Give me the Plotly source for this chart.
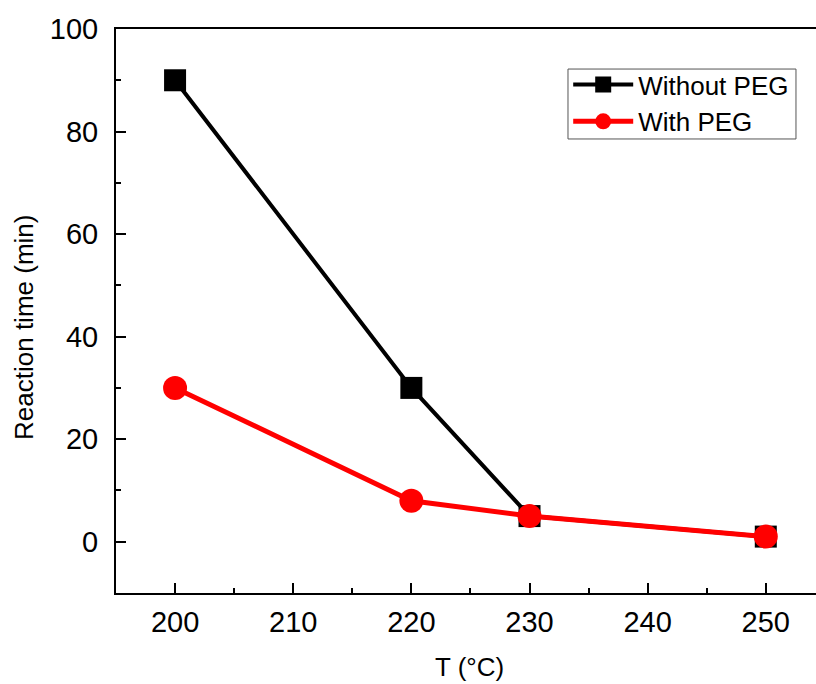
import plotly.graph_objects as go

temps = [200, 220, 230, 250]
without_peg = [90, 30, 5, 1]
with_peg = [30, 8, 5, 1]

x_ticks = [200, 210, 220, 230, 240, 250]
y_ticks = [0, 20, 40, 60, 80, 100]

FONT = "Liberation Sans, Arial, sans-serif"

fig = go.Figure()
fig.add_trace(go.Scatter(
    x=temps, y=without_peg, mode="lines+markers", name="Without PEG",
    line=dict(color="black", width=4),
    marker=dict(symbol="square", size=22, color="black"),
))
fig.add_trace(go.Scatter(
    x=temps, y=with_peg, mode="lines+markers", name="With PEG",
    line=dict(color="#ff0000", width=5),
    marker=dict(symbol="circle", size=24, color="#ff0000"),
))

fig.update_layout(
    width=816, height=684,
    margin=dict(l=116, r=0, t=29, b=91),
    paper_bgcolor="white", plot_bgcolor="white",
    font=dict(family=FONT, color="black"),
    showlegend=True,
    legend=dict(
        x=0.646, y=0.943, xanchor="left", yanchor="top",
        bgcolor="rgba(0,0,0,0)", borderwidth=0,
        font=dict(size=26, family=FONT, color="black"),
        tracegroupgap=0, itemwidth=60,
    ),
    shapes=[dict(
        type="rect", xref="paper", yref="paper",
        x0=0.6457, x1=0.9714, y0=0.805, y1=0.929,
        line=dict(color="#555555", width=1), fillcolor="white", layer="above",
    )],
    annotations=[
        dict(text="Reaction time (min)", xref="paper", yref="paper",
             x=-0.1314, y=0.470, textangle=-90, showarrow=False,
             xanchor="center", yanchor="middle",
             font=dict(size=26, family=FONT, color="black")),
        dict(text="T (°C)", xref="paper", yref="paper",
             x=0.5057, y=-0.131, showarrow=False,
             xanchor="center", yanchor="middle",
             font=dict(size=26, family=FONT, color="black")),
    ],
)

fig.update_xaxes(
    range=[195, 254.25], tickvals=x_ticks,
    showgrid=False, zeroline=False,
    showline=True, linecolor="black", linewidth=2, mirror=True,
    ticks="inside", ticklen=10, tickwidth=2, tickcolor="black",
    minor=dict(dtick=5, tick0=195, ticks="inside", ticklen=5, tickwidth=2, tickcolor="black", showgrid=False),
    tickfont=dict(size=29, family=FONT, color="black"),
    ticklabelstandoff=2,
)
fig.update_yaxes(
    range=[-10, 100], tickvals=y_ticks,
    showgrid=False, zeroline=False,
    showline=True, linecolor="black", linewidth=2,
    ticks="inside", ticklen=10, tickwidth=2, tickcolor="black",
    minor=dict(dtick=10, tick0=-10, ticks="inside", ticklen=5, tickwidth=2, tickcolor="black", showgrid=False),
    tickfont=dict(size=29, family=FONT, color="black"),
    ticklabelstandoff=10,
)

fig.write_html(
    "out.html",
    config={"displayModeBar": False},
    post_script="document.body.style.margin='0';document.body.style.overflow='hidden';",
)
